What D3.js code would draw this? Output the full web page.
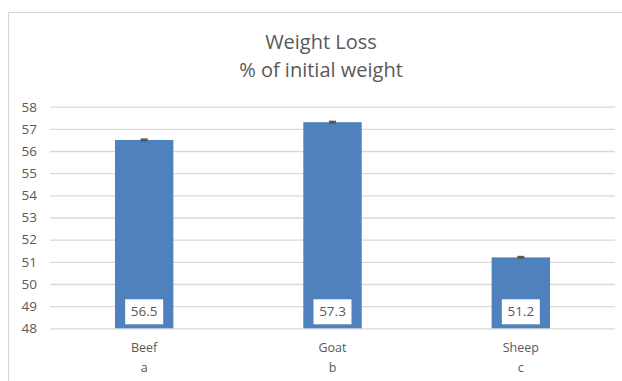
<!DOCTYPE html>
<html>
<head>
<meta charset="utf-8">
<script src="https://cdn.jsdelivr.net/npm/d3@7"></script>
<style>
  html, body { margin: 0; padding: 0; background: #fff; }
  svg { display: block; font-family: "Open Sans", "Noto Sans", sans-serif; }
</style>
</head>
<body>
<svg id="chart" width="622" height="381"></svg>
<script>
// Weight loss by species, with significance letters under each name
const categories = ["Beef", "Goat", "Sheep"];
const letters = ["a", "b", "c"];
const values = [56.5, 57.3, 51.2];
const errors = [0.03, 0.03, 0.03];
const yTicks = [48, 49, 50, 51, 52, 53, 54, 55, 56, 57, 58];
const titleLines = ["Weight Loss", "% of initial weight"];

const svg = d3.select("#chart");
const W = 622, H = 381;
const plot = { left: 50, right: 615, top: 106.7, bottom: 328.3 };
const textColor = "#595959";

// chart frame
svg.append("rect")
  .attr("x", 8.5).attr("y", 12.5)
  .attr("width", W + 10).attr("height", H + 10)
  .attr("fill", "#fff").attr("stroke", "#d9d9d9").attr("stroke-width", 1.2);

// title
svg.append("g").selectAll("text").data(titleLines).join("text")
  .attr("x", 321).attr("y", (d, i) => 49 + i * 27.5)
  .attr("text-anchor", "middle")
  .attr("font-size", 20)
  .attr("fill", textColor)
  .text(d => d);

const x = d3.scaleBand().domain(categories)
  .range([plot.left, plot.right]).paddingInner(0.69).paddingOuter(0.345);
const y = d3.scaleLinear().domain([48, 58]).range([plot.bottom, plot.top]);

// horizontal gridlines + tick labels via axis
const yAxis = d3.axisLeft(y).tickValues(yTicks).tickFormat(d3.format("d"))
  .tickSize(-(plot.right - plot.left)).tickPadding(13);
const gy = svg.append("g").attr("transform", `translate(${plot.left},0)`).call(yAxis);
gy.select(".domain").remove();
gy.selectAll(".tick line").attr("stroke", "#d9d9d9").attr("stroke-width", 1.3);
gy.selectAll(".tick text").attr("fill", textColor).attr("font-size", 13.5)
  .attr("font-family", "'Open Sans', sans-serif");

// bars
svg.append("g").selectAll("rect").data(values).join("rect")
  .attr("x", (d, i) => x(categories[i]))
  .attr("width", x.bandwidth())
  .attr("y", d => y(d))
  .attr("height", d => y(48) - y(d))
  .attr("fill", "#4f81bd");

// error bars
const eb = svg.append("g").attr("stroke", "#595959").attr("stroke-width", 1.8);
values.forEach((v, i) => {
  const cx = x(categories[i]) + x.bandwidth() / 2;
  eb.append("line").attr("x1", cx).attr("x2", cx)
    .attr("y1", y(v - errors[i])).attr("y2", y(v + errors[i]));
  [v - errors[i], v + errors[i]].forEach(e => {
    eb.append("line").attr("x1", cx - 3.5).attr("x2", cx + 3.5)
      .attr("y1", y(e)).attr("y2", y(e));
  });
});

// value labels in white boxes at the base of each bar
const lab = svg.append("g").selectAll("g").data(values).join("g")
  .attr("transform", (d, i) => `translate(${x(categories[i]) + x.bandwidth() / 2},${y(48) - 17})`);
lab.append("rect").attr("x", -19).attr("y", -12).attr("width", 38).attr("height", 25)
  .attr("fill", "#fff");
lab.append("text").attr("text-anchor", "middle").attr("dy", "0.35em")
  .attr("font-size", 13.5).attr("fill", textColor)
  .text(d => d3.format(".1f")(d));

// category names and letters
const cat = svg.append("g").selectAll("g").data(categories).join("g")
  .attr("transform", d => `translate(${x(d) + x.bandwidth() / 2},0)`);
cat.append("text").attr("y", 352).attr("text-anchor", "middle")
  .attr("font-size", 12.5).attr("fill", textColor).text(d => d);
cat.append("text").attr("y", 372).attr("text-anchor", "middle")
  .attr("font-size", 12.5).attr("fill", textColor).text((d, i) => letters[i]);
</script>
</body>
</html>
